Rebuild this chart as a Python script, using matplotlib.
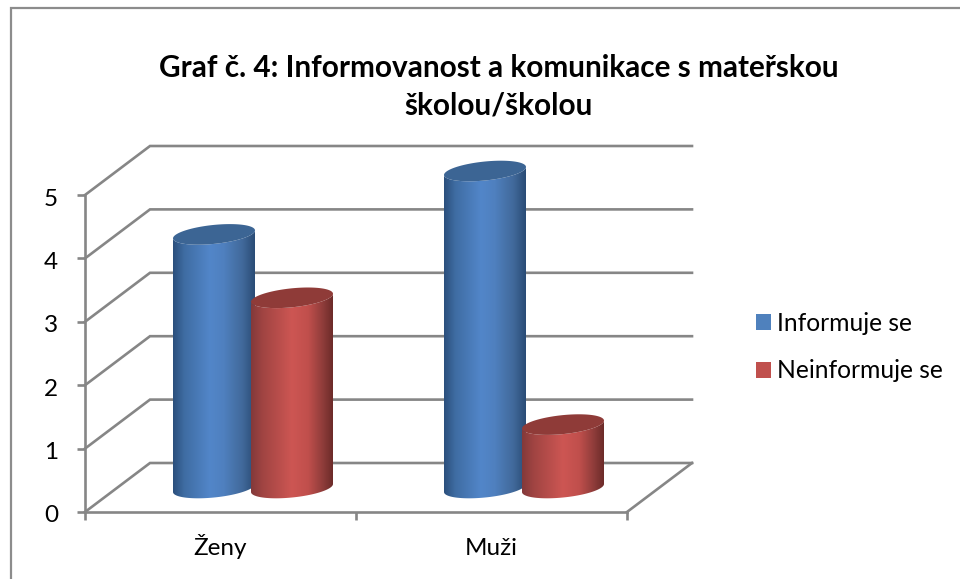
import numpy as np
import matplotlib
matplotlib.use("Agg")
import matplotlib.pyplot as plt
from matplotlib.colors import LinearSegmentedColormap
from matplotlib.lines import Line2D
from matplotlib.patches import PathPatch, Patch, Polygon
from matplotlib.path import Path
from matplotlib.transforms import ScaledTranslation

categories = ["Ženy", "Muži"]
series_names = ["Informuje se", "Neinformuje se"]
informuje = [4, 5]
neinformuje = [3, 1]
y_ticks = [0, 1, 2, 3, 4, 5]
title = "Graf č. 4: Informovanost a komunikace s mateřskou\nškolou/školou"

plt.rcParams["font.family"] = ["Lato", "DejaVu Sans"]
W, H = 960, 579
GRID = "#868686"
LW = 1.9

fig = plt.figure(figsize=(W / 100, H / 100), dpi=100, facecolor="white")
fig.add_artist(Line2D([11 / W, 11 / W, 1.01], [-0.01, 1 - 8 / H, 1 - 8 / H], transform=fig.transFigure,
                      color="#8c8c8c", lw=1.6, solid_joinstyle="miter"))

# plot box: front floor edge 85..627 px, value 0..5 at 512..195 px, head room above
YMAX = 5.6
ppu = 317 / 5
ax = fig.add_axes([85 / W, 1 - 512 / H, 542 / W, YMAX * ppu / H])
ax.set_xlim(-0.5, 1.5)
ax.set_ylim(0, YMAX)
ax.patch.set_visible(False)
px_x = 2 / 542
px_y = 1 / ppu
depth_x = 65 * px_x
depth_y = 49 * px_y

for s in ("top", "right"):
    ax.spines[s].set_visible(False)
for s in ("left", "bottom"):
    ax.spines[s].set_color(GRID)
    ax.spines[s].set_linewidth(LW)
ax.spines["left"].set_bounds(0, 5)

ax.set_yticks(y_ticks)
ax.set_yticklabels([str(v) for v in y_ticks], fontsize=17.5, color="black")
ax.set_xticks([-0.5, 0.5, 1.5])
ax.set_xticklabels([])
ax.set_xticks([0, 1], minor=True)
ax.set_xticklabels(categories, minor=True, fontsize=17.5, color="black", va="baseline")
ax.tick_params(axis="y", length=6, width=LW, color=GRID, pad=13.5)
ax.tick_params(axis="x", which="major", length=6, width=LW, color=GRID)
ax.tick_params(axis="x", which="minor", length=0, pad=31)
shift = ScaledTranslation(0, -2 * 0.72 / 72, fig.dpi_scale_trans)
for lab in ax.get_yticklabels():
    lab.set_transform(lab.get_transform() + shift)

# back wall gridlines and slanted side lines
for v in y_ticks:
    ax.plot([-0.5, -0.5 + depth_x, 1.5 + depth_x], [v, v + depth_y, v + depth_y],
            color=GRID, lw=LW, clip_on=False, zorder=1, solid_joinstyle="miter")
ax.plot([1.5, 1.5 + depth_x], [0, depth_y], color=GRID, lw=LW, clip_on=False, zorder=1)

blue_cmap = LinearSegmentedColormap.from_list("b", [
    (0, "#2b4f7c"), (0.14, "#3f6da3"), (0.45, "#5286c9"), (0.62, "#4f80bf"),
    (0.85, "#41699a"), (1, "#2a4c76")])
red_cmap = LinearSegmentedColormap.from_list("r", [
    (0, "#83393a"), (0.14, "#a04442"), (0.5, "#cd5653"), (0.7, "#c04f4c"),
    (0.88, "#8e3c3a"), (1, "#6c2b29")])
top_colors = ["#3c6594", "#8f3b38"]

half_w = 41 * px_x
b = 9.5 * px_y
k = 4 * px_y
base = 24 * px_y
sep = 39 * px_x


def curve(xc, y0, t):
    return np.column_stack([xc + half_w * np.cos(t), y0 + b * np.sin(t) + k * np.cos(t)])


def cylinder(xc, value, cmap, top_color, z):
    y0 = base
    y1 = base + value
    t_front = np.linspace(np.pi, 2 * np.pi, 60)
    t_full = np.linspace(0, 2 * np.pi, 120)
    lower = curve(xc, y0, t_front)
    upper = curve(xc, y1, t_front[::-1])
    body = np.vstack([lower, upper, lower[:1]])
    clip = PathPatch(Path(body), transform=ax.transData, facecolor="none", edgecolor="none")
    ax.add_patch(clip)
    grad = np.linspace(0, 1, 256).reshape(1, -1)
    im = ax.imshow(grad, cmap=cmap, aspect="auto", zorder=z, interpolation="bilinear",
                   extent=[xc - half_w, xc + half_w, y0 - b - k, y1 + b + k])
    im.set_clip_path(clip)
    ax.add_patch(Polygon(curve(xc, y1, t_full), closed=True, facecolor=top_color,
                         edgecolor="none", zorder=z + 0.1, clip_on=False))


for i in range(len(categories)):
    xc = i + depth_x / 2
    cylinder(xc - sep, informuje[i], blue_cmap, top_colors[0], 3 + i * 0.5)
    cylinder(xc + sep, neinformuje[i], red_cmap, top_colors[1], 4 + i * 0.5)

ax.set_xlim(-0.5, 1.5)
ax.set_ylim(0, YMAX)

fig.text(499 / W, 1 - 86.5 / H, title, ha="center", va="center", fontsize=21.4,
         fontweight="bold", color="black", linespacing=1.42)

handles = [Patch(facecolor="#4f81bd"), Patch(facecolor="#c0504d")]
fig.legend(handles, series_names, loc="center left", bbox_to_anchor=(756 / W, 1 - 347 / H),
           frameon=False, fontsize=17.7, handlelength=0.61, handleheight=0.61,
           handletextpad=0.25, labelspacing=1.0, borderpad=0, borderaxespad=0)

fig.savefig("out.png", dpi=100, facecolor="white")
